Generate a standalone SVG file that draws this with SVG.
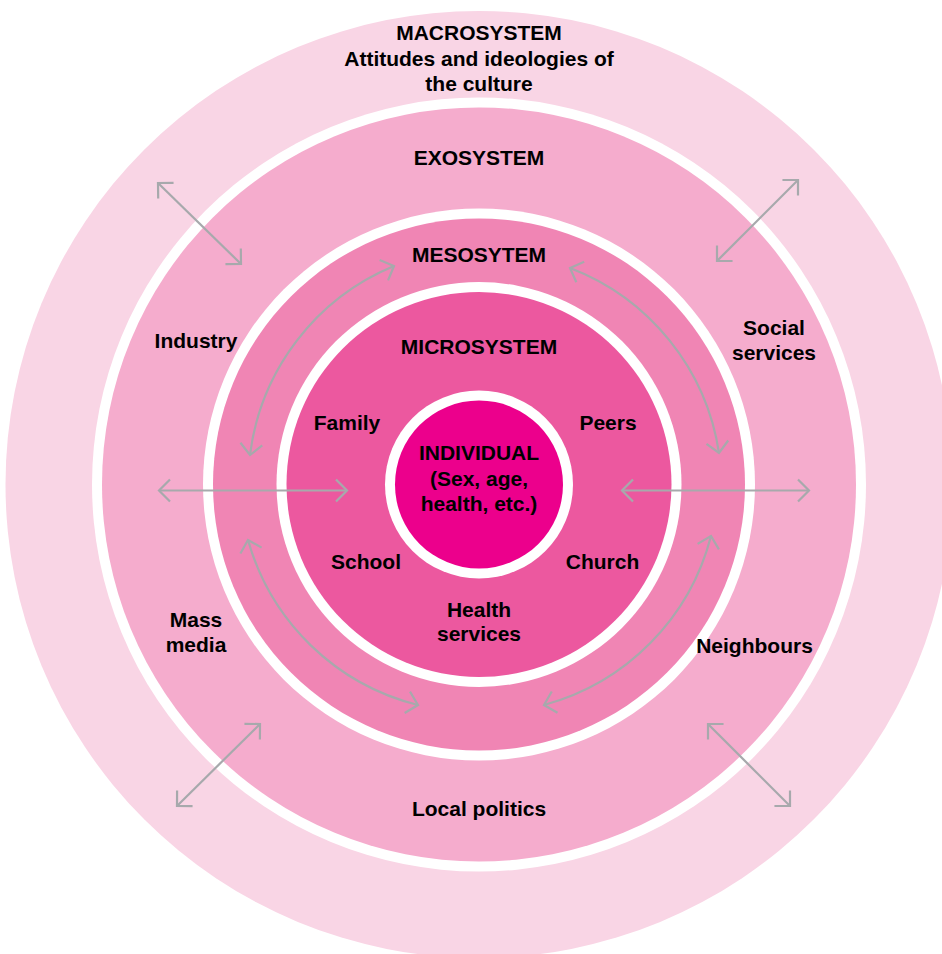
<svg xmlns="http://www.w3.org/2000/svg" width="942" height="954" viewBox="0 0 942 954">
<style>
text{font-family:"Liberation Sans",Arial,Helvetica,sans-serif;font-weight:bold;font-size:21px;fill:#000;text-anchor:middle}
.gap{fill:#fff}
.arr{fill:none;stroke:#A7A9AC;stroke-width:2.2;marker-start:url(#ah);marker-end:url(#ah)}
</style>
<defs>
<marker id="ah" markerUnits="userSpaceOnUse" viewBox="-14 -14 16 28" refX="0" refY="0" markerWidth="16" markerHeight="28" orient="auto-start-reverse">
<path d="M-11,-11 L0,0 L-11,11" fill="none" stroke="#A7A9AC" stroke-width="2.2"/>
</marker>
</defs>
<rect width="942" height="954" fill="#fff"/>
<g id="macrosystem">
<circle cx="479" cy="484.5" r="473.5" fill="#F9D5E5"/>
<circle class="gap" cx="479" cy="484.5" r="387"/>
<text x="479" y="40">MACROSYSTEM</text>
<text x="479" y="65.5">Attitudes and ideologies of</text>
<text x="479" y="90.5">the culture</text>
</g>
<g id="exosystem">
<circle cx="479" cy="484.5" r="377" fill="#F5ACCD"/>
<circle class="gap" cx="479" cy="484.5" r="276"/>
<text x="479" y="165">EXOSYSTEM</text>
<text x="196" y="348">Industry</text>
<text x="774" y="335">Social</text>
<text x="774" y="360">services</text>
<text x="196" y="627">Mass</text>
<text x="196" y="652">media</text>
<text x="754.5" y="653">Neighbours</text>
<text x="479" y="815.5">Local politics</text>
</g>
<g id="mesosystem">
<circle cx="479" cy="484.5" r="266" fill="#F085B4"/>
<circle class="gap" cx="479" cy="484.5" r="202.5"/>
<text x="479" y="262">MESOSYTEM</text>
</g>
<g id="microsystem">
<circle cx="479" cy="484.5" r="192.5" fill="#EC589F"/>
<circle class="gap" cx="479" cy="484.5" r="94"/>
<text x="479" y="354">MICROSYSTEM</text>
<text x="347" y="430">Family</text>
<text x="608" y="430">Peers</text>
<text x="366" y="569">School</text>
<text x="602.5" y="569">Church</text>
<text x="479" y="616.5">Health</text>
<text x="479" y="640.5">services</text>
</g>
<g id="individual">
<circle cx="479" cy="484.5" r="84" fill="#EC008C"/>
<text x="479" y="460">INDIVIDUAL</text>
<text x="479" y="486">(Sex, age,</text>
<text x="479" y="511">health, etc.)</text>
</g>
<g id="connectors">
<line class="arr" x1="158" y1="183" x2="241" y2="264"/>
<line class="arr" x1="798" y1="180" x2="717" y2="261"/>
<line class="arr" x1="159" y1="490.5" x2="347" y2="490.5"/>
<line class="arr" x1="622" y1="490.5" x2="809" y2="490.5"/>
<line class="arr" x1="260" y1="724" x2="177" y2="806"/>
<line class="arr" x1="708" y1="724" x2="790" y2="806"/>
<path class="arr" d="M394,266 A236,236 0 0 0 250,455"/>
<path class="arr" d="M570,268 A236,236 0 0 1 719,453"/>
<path class="arr" d="M248,540 A236,236 0 0 0 418,705"/>
<path class="arr" d="M711,536 A236,236 0 0 1 544,705"/>
</g>
</svg>
